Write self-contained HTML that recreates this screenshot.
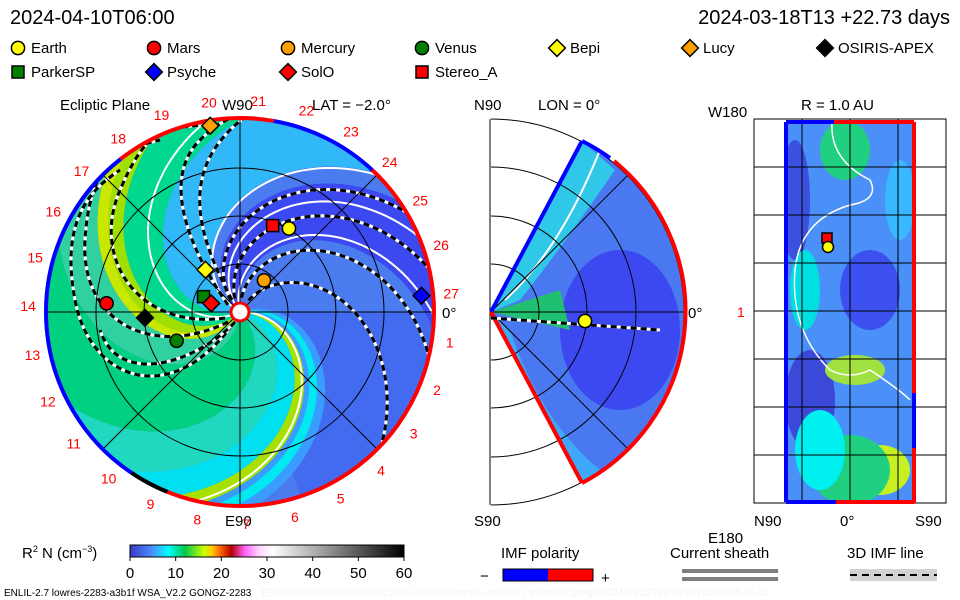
<!DOCTYPE html>
<html><head><meta charset="utf-8"><style>
html,body{margin:0;padding:0;background:#fff;}
svg{display:block;font-family:"Liberation Sans",sans-serif;}
.t{font-size:15px;fill:#000;}
.r{font-size:14px;fill:#f00;}
</style></head><body>
<svg id="svg" width="960" height="600" viewBox="0 0 960 600" xmlns="http://www.w3.org/2000/svg">
<defs>
<clipPath id="cl"><circle cx="240" cy="312" r="194"/></clipPath>
<clipPath id="cm"><path d="M491,312 L582,141 A194,194 0 0 1 582,483 Z"/></clipPath>
<clipPath id="cr"><rect x="786" y="120" width="128" height="383"/></clipPath>
<linearGradient id="cbar" x1="0" x2="1">
<stop offset="0" stop-color="#3a3ac8"/><stop offset="0.08" stop-color="#4a8cff"/><stop offset="0.14" stop-color="#00ffff"/><stop offset="0.2" stop-color="#00c850"/><stop offset="0.27" stop-color="#c8ff00"/><stop offset="0.3" stop-color="#ffc800"/><stop offset="0.33" stop-color="#ff6400"/><stop offset="0.37" stop-color="#b40000"/><stop offset="0.42" stop-color="#ff64ff"/><stop offset="0.47" stop-color="#ffd2ff"/><stop offset="0.52" stop-color="#ffffff"/><stop offset="1" stop-color="#000"/>
</linearGradient>
</defs>
<text class="t" x="10" y="24" style="font-size:20px">2024-04-10T06:00</text>
<text class="t" x="950" y="24" text-anchor="end" style="font-size:20px">2024-03-18T13 +22.73 days</text>
<g id="legend"></g>

<g id="left">
<text class="t" x="60" y="110">Ecliptic Plane</text>
<text class="t" x="222" y="110">W90</text>
<text class="t" x="312" y="110">LAT = −2.0°</text>
<text class="t" x="225" y="526">E90</text>
<text class="t" x="442" y="318">0°</text>
<g id="lfield" clip-path="url(#cl)"></g>
<g id="lgrid"></g>
<g id="lmarks"></g>
</g>

<g id="mid">
<text class="t" x="474" y="110">N90</text>
<text class="t" x="538" y="110">LON = 0°</text>
<text class="t" x="474" y="526">S90</text>
<text class="t" x="688" y="318">0°</text>
<g id="mfield" clip-path="url(#cm)"></g>
<g id="mgrid"></g>
</g>

<g id="right">
<text class="t" x="801" y="110">R = 1.0 AU</text>
<text class="t" x="708" y="117">W180</text>
<text class="t" x="708" y="543">E180</text>
<text class="r" x="737" y="317">1</text>
<text class="t" x="754" y="526">N90</text>
<text class="t" x="840" y="526">0°</text>
<text class="t" x="915" y="526">S90</text>
<g id="rfield" clip-path="url(#cr)"></g>
<g id="rgrid"></g>
</g>

<g>
<text class="t" x="22" y="558">R<tspan font-size="9" dy="-6">2</tspan><tspan dy="6"> N (cm</tspan><tspan font-size="9" dy="-6">−3</tspan><tspan dy="6">)</tspan></text>
<rect x="130" y="545" width="274" height="12" fill="url(#cbar)" stroke="#000"/>
<g id="cbticks"></g>
</g>
<g>
<text class="t" x="501" y="558">IMF polarity</text>
<text class="t" x="480" y="581">−</text>
<rect x="503" y="569" width="45" height="12" fill="#00f"/>
<rect x="548" y="569" width="45" height="12" fill="#f00"/>
<rect x="503" y="569" width="90" height="12" fill="none" stroke="#000"/>
<text class="t" x="601" y="583">+</text>
</g>
<g>
<text class="t" x="670" y="558">Current sheath</text>
<rect x="682" y="569" width="96" height="4" fill="#808080"/>
<rect x="682" y="577" width="96" height="4" fill="#808080"/>
</g>
<g>
<text class="t" x="847" y="558">3D IMF line</text>
<rect x="850" y="569" width="87" height="12" fill="#d2d2d2"/>
<line x1="850" y1="575" x2="937" y2="575" stroke="#000" stroke-width="2" stroke-dasharray="7,5"/>
</g>
<text x="4" y="596" style="font-size:10px">ENLIL-2.7 lowres-2283-a3b1f WSA_V2.2 GONGZ-2283</text>
<text x="262" y="596" style="font-size:10px" fill="#f4f4f4">E0410094502/256x30x90x1:2283-a3b1f.16-mcp1umn1cd-1.g53q5d2.gongz-2024:03:12T22:39:00TC0    2024-04-10</text>
</svg>
<script>
const NS="http://www.w3.org/2000/svg";
function mk(p,tag,a){const e=document.createElementNS(NS,tag);for(const k in a)e.setAttribute(k,a[k]);p.appendChild(e);return e;}
// ---- data ----
const bodyNames=["Earth","Mars","Mercury","Venus","Bepi","Lucy","OSIRIS-APEX","ParkerSP","Psyche","SolO","Stereo_A"];
const bodyShapes=["circle","circle","circle","circle","diamond","diamond","diamond","square","diamond","diamond","square"];
const bodyColors=["#ffff00","#ff0000","#ffa000","#008000","#ffff00","#ffa000","#000000","#008000","#0000ff","#ff0000","#ff0000"];
const bodyX=[0.51,-1.39,0.25,-0.66,-0.36,-0.31,-0.99,-0.38,1.89,-0.30,0.34]; // AU
const bodyY=[0.87,0.09,0.33,-0.30,0.44,1.94,-0.06,0.16,0.17,0.09,0.90];
const cbTicks=[0,10,20,30,40,50,60];
const carrLabels=[27,1,2,3,4,5,6,7,8,9,10,11,12,13,14,15,16,17,18,19,20,21,22,23,24,25,26];
// spiral bands (source angle ranges, deg) and colours; uncovered = medium blue
const bandStart=[100,4,-4,-20,-46,-96,-121,-128,-138,-166,194,8];
const bandEnd=[140,20,4,-4,-20,-46,-96,-121,-128,-138,151,14];
const bandColor=["#3c48f0","#3a9cff","#a8e000","#00e0f0","#20d8c0","#00d080","#30d0a0","#c8e800","#a0e000","#00d890","#30b8f8","#00e8f0"];
const dashedSrc=[136,118,92,62];
const whiteSrc=[150,128,104,2,205];

const PX=96, CX=240, CY=312, LAG=52;
function sx(x){return CX+x*PX;} function sy(y){return CY-y*PX;}
function spiral(src,r0,r1){let d="";for(let r=r0;r<=r1+1e-6;r+=0.04){const a=(src-LAG*r)*Math.PI/180;d+=(d?"L":"M")+sx(r*Math.cos(a)).toFixed(1)+","+sy(r*Math.sin(a)).toFixed(1);}return d;}
function marker(g,shape,color,x,y,s){
  if(shape==="circle")return mk(g,"circle",{cx:x,cy:y,r:s*0.55,fill:color,stroke:"#000","stroke-width":1.5});
  if(shape==="square")return mk(g,"rect",{x:x-s*0.5,y:y-s*0.5,width:s,height:s,fill:color,stroke:"#000","stroke-width":1.5});
  return mk(g,"path",{d:`M${x},${y-s*0.7}L${x+s*0.7},${y}L${x},${y+s*0.7}L${x-s*0.7},${y}Z`,fill:color,stroke:"#000","stroke-width":1.5});
}
// legend
const lg=document.getElementById("legend");
const legX=[18,154,288,422,557,690,825,18,154,288,422], legY=[48,48,48,48,48,48,48,72,72,72,72];
bodyNames.forEach((n,i)=>{
  const m=marker(lg,bodyShapes[i],bodyColors[i],legX[i],legY[i],12);
  
  
  const t=mk(lg,"text",{x:legX[i]+13,y:legY[i]+5,"font-size":15});t.textContent=n;
  
  
});
// left field
const lf=document.getElementById("lfield");
mk(lf,"circle",{cx:CX,cy:CY,r:200,fill:"#4a7cf0"});
mk(lf,"path",{d:"M434,312 A194,194 0 0 1 300,496 L240,312 Z",fill:"#4060f0",opacity:"0.6"});
const RMAX=2.2;
function pt(r,deg){const a=deg*Math.PI/180;return sx(r*Math.cos(a)).toFixed(1)+","+sy(r*Math.sin(a)).toFixed(1);}
bandStart.forEach((s,i)=>{
  const e=bandEnd[i];
  let d="M"+pt(0.05,s-LAG*0.05);
  for(let r=0.09;r<=RMAX+1e-6;r+=0.04)d+="L"+pt(r,s-LAG*r);
  if(s<e){for(let a=s;a<=e;a+=3)d+="L"+pt(RMAX,a-LAG*RMAX);}
  else{for(let a=s;a>=e;a-=3)d+="L"+pt(RMAX,a-LAG*RMAX);}
  d+="L"+pt(RMAX,e-LAG*RMAX);
  for(let r=RMAX;r>=0.05;r-=0.04)d+="L"+pt(r,e-LAG*r);
  const p=mk(lf,"path",{d:d+"Z",fill:bandColor[i]});
  
  
});
whiteSrc.forEach(s=>{const p=mk(lf,"path",{d:spiral(s,0.1,2.1),fill:"none",stroke:"#fff","stroke-width":2});
  });
function dashed(d){mk(lf,"path",{d:d,fill:"none",stroke:"#fff","stroke-width":3});
  const p=mk(lf,"path",{d:d,fill:"none",stroke:"#000","stroke-width":3,"stroke-dasharray":"6,4"});
  }
dashedSrc.forEach(s=>dashed(spiral(s,0.15,2.1)));
dashed("M232,300 C200,240 180,180 230,130 S330,120 360,140");
dashed("M228,305 C190,250 160,180 200,140 S270,115 300,118");
dashed("M225,318 C140,330 90,260 120,190 S170,130 200,125");
dashed("M228,322 C150,360 80,320 85,240 S120,150 160,140");
dashed("M232,325 C170,410 90,380 75,300 S90,190 120,170");
dashed("M235,322 C200,360 120,390 100,330");
// left grid
const lgd=document.getElementById("lgrid");
[0.5,1,1.5].forEach(r=>mk(lgd,"circle",{cx:CX,cy:CY,r:r*PX,fill:"none",stroke:"#000","stroke-width":1}));
mk(lgd,"line",{x1:CX-194,y1:CY,x2:CX+194,y2:CY,stroke:"#000"});
mk(lgd,"line",{x1:CX,y1:CY-194,x2:CX,y2:CY+194,stroke:"#000"});
mk(lgd,"line",{x1:CX-137,y1:CY-137,x2:CX+137,y2:CY+137,stroke:"#000"});
mk(lgd,"line",{x1:CX-137,y1:CY+137,x2:CX+137,y2:CY-137,stroke:"#000"});
function arcP(a0,a1,R){const p0=[CX+R*Math.cos(a0*Math.PI/180),CY-R*Math.sin(a0*Math.PI/180)],p1=[CX+R*Math.cos(a1*Math.PI/180),CY-R*Math.sin(a1*Math.PI/180)];return `M${p0[0]},${p0[1]}A${R},${R} 0 ${Math.abs(a1-a0)>180?1:0} 0 ${p1[0]},${p1[1]}`;}
[[-118,47,"#f00"],[47,80,"#00f"],[80,128,"#f00"],[128,236,"#00f"],[236,242,"#000"],[-120,-112,"#000"]].forEach(s=>mk(lgd,"path",{d:arcP(s[0],s[1],194),fill:"none",stroke:s[2],"stroke-width":4}));
mk(lgd,"circle",{cx:CX,cy:CY,r:9,fill:"#fff",stroke:"#f00","stroke-width":3});
carrLabels.forEach((n,i)=>{const a=(5-i*13.33)*Math.PI/180;const t=mk(lgd,"text",{x:CX+212*Math.cos(a),y:CY-212*Math.sin(a)+5,"text-anchor":"middle",class:"r"});t.textContent=n;
  });
// bodies
const lm=document.getElementById("lmarks");
bodyNames.forEach((n,i)=>{const m=marker(lm,bodyShapes[i],bodyColors[i],sx(bodyX[i]),sy(bodyY[i]),12);
  });
// middle
const MX=491,MY=312;
const mf=document.getElementById("mfield");
mk(mf,"rect",{x:480,y:100,width:220,height:420,fill:"#4a78f0"});
mk(mf,"ellipse",{cx:620,cy:330,rx:60,ry:80,fill:"#3c48f0"});
mk(mf,"path",{d:"M491,312 L582,141 L615,170 Q560,250 520,300 Z",fill:"#30c8e8"});
mk(mf,"path",{d:"M491,312 L560,290 L570,330 Z",fill:"#20c070"});
mk(mf,"path",{d:"M491,312 L582,483 L600,470 Q540,420 510,330Z",fill:"#40a8f8"});
mk(mf,"path",{d:"M505,300 Q560,250 600,150",fill:"none",stroke:"#fff","stroke-width":2});
const mg=document.getElementById("mgrid");
mk(mg,"line",{x1:490,y1:119,x2:490,y2:505,stroke:"#000"});
[48,96,145,193].forEach(r=>mk(mg,"path",{d:`M${MX},${MY-r}A${r},${r} 0 0 1 ${MX},${MY+r}`,fill:"none",stroke:"#000"}));
[45,0,-45].forEach(a=>mk(mg,"line",{x1:MX,y1:MY,x2:MX+194*Math.cos(a*Math.PI/180),y2:MY-194*Math.sin(a*Math.PI/180),stroke:"#000"}));
mk(mg,"path",{d:`M${MX},${MY}L582,141`,stroke:"#00f","stroke-width":4});
mk(mg,"path",{d:`M${MX},${MY}L582,483`,stroke:"#f00","stroke-width":4});
mk(mg,"path",{d:`M582,141A194,194 0 0 1 610,158`,fill:"none",stroke:"#00f","stroke-width":4});
mk(mg,"path",{d:`M614,161A194,194 0 0 1 582,483`,fill:"none",stroke:"#f00","stroke-width":4});
mk(mg,"line",{x1:491,y1:318,x2:660,y2:330,stroke:"#fff","stroke-width":3});
mk(mg,"line",{x1:491,y1:318,x2:660,y2:330,stroke:"#000","stroke-width":3,"stroke-dasharray":"6,4"});
const em=marker(mg,"circle","#ffff00",585,321,12);

// right
const rf=document.getElementById("rfield");
mk(rf,"rect",{x:786,y:120,width:128,height:383,fill:"#4a90f8"});
[[795,200,15,60,"#3c50e0"],[870,290,30,40,"#3c50f0"],[810,400,25,50,"#3c48d8"],[845,150,25,30,"#20d080"],[855,370,30,15,"#a0e040"],[880,470,30,25,"#c8f020"],[850,470,40,35,"#20d080"],[805,290,15,40,"#00e0e0"],[820,450,25,40,"#00f0f0"],[900,200,15,40,"#3ab8ff"]].forEach(b=>mk(rf,"ellipse",{cx:b[0],cy:b[1],rx:b[2],ry:b[3],fill:b[4]}));
mk(rf,"path",{d:"M832,123 Q830,160 870,180 Q880,200 850,205 Q800,220 795,270 Q790,330 830,370 Q850,380 870,370 Q900,390 910,400",fill:"none",stroke:"#fff","stroke-width":1.5});
const rg=document.getElementById("rgrid");
mk(rg,"rect",{x:754,y:119,width:192,height:384,fill:"none",stroke:"#000"});
[802,850,898].forEach(x=>mk(rg,"line",{x1:x,y1:119,x2:x,y2:503,stroke:"#000"}));
[167,215,263,311,359,407,455].forEach(y=>mk(rg,"line",{x1:754,y1:y,x2:946,y2:y,stroke:"#000"}));
mk(rg,"line",{x1:786,y1:122,x2:786,y2:502,stroke:"#00f","stroke-width":4});
mk(rg,"line",{x1:786,y1:122,x2:834,y2:122,stroke:"#00f","stroke-width":4});
mk(rg,"line",{x1:834,y1:122,x2:914,y2:122,stroke:"#f00","stroke-width":4});
mk(rg,"line",{x1:786,y1:502,x2:836,y2:502,stroke:"#00f","stroke-width":4});
mk(rg,"line",{x1:836,y1:502,x2:914,y2:502,stroke:"#f00","stroke-width":4});
mk(rg,"line",{x1:914,y1:122,x2:914,y2:393,stroke:"#f00","stroke-width":4});
mk(rg,"line",{x1:914,y1:393,x2:914,y2:448,stroke:"#00f","stroke-width":4});
mk(rg,"line",{x1:914,y1:448,x2:914,y2:503,stroke:"#f00","stroke-width":4});
const rs=marker(rg,"square","#ff0000",827,238,10);

const re=marker(rg,"circle","#ffff00",828,247,10);

// colorbar ticks
const cb=document.getElementById("cbticks");
cbTicks.forEach(v=>{const x=130+v/60*274;mk(cb,"line",{x1:x,y1:557,x2:x,y2:561,stroke:"#000"});
  const t=mk(cb,"text",{x:x,y:578,"text-anchor":"middle",class:"t"});t.textContent=v;
  });
</script>
</body></html>
